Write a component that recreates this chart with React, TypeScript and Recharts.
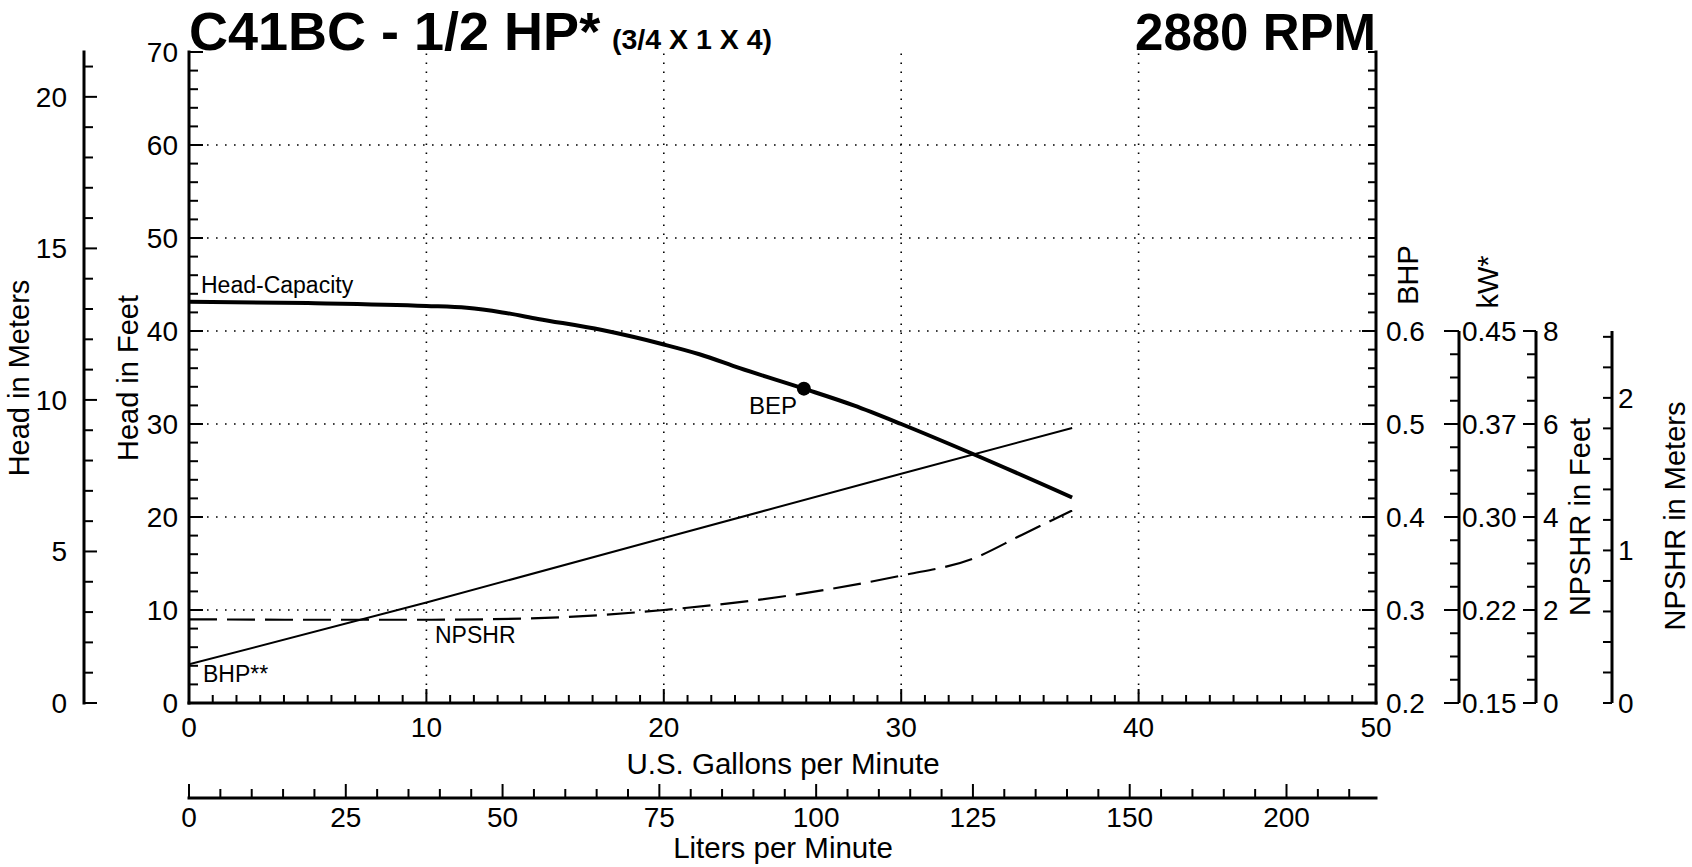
import React from "react";
import {
  ComposedChart,
  Line,
  XAxis,
  YAxis,
  ReferenceLine,
  ReferenceDot,
} from "recharts";

const FONT = '"Liberation Sans", Arial, Helvetica, sans-serif';

// ---- data (x in US gpm) ----
const headGpm = [0, 5, 10, 11.7, 13.2, 14.7, 17.4, 20, 21.5, 23.2, 25.9, 28, 30, 33, 37.2];
const headFt = [43.15, 43.0, 42.7, 42.5, 42.0, 41.3, 40.1, 38.55, 37.5, 36.0, 33.8, 32.0, 30.0, 26.8, 22.1];

const bhpGpm = [0, 10, 20, 30, 37.2];
const bhpValues = [0.2415, 0.308, 0.3775, 0.4465, 0.4957];

const npshrGpm = [0, 5, 10, 15, 20, 25, 30, 33, 35.1, 37.2];
const npshrFt = [1.8, 1.79, 1.79, 1.83, 2.0, 2.29, 2.74, 3.1, 3.62, 4.14];

const bep = { gpm: 25.9, ft: 33.8 };

// ---- tick labels ----
const gpmLabels = [0, 10, 20, 30, 40, 50];
const ftLabels = [0, 10, 20, 30, 40, 50, 60, 70];
const meterLabels = [0, 5, 10, 15, 20];
const bhpLabels = [0.2, 0.3, 0.4, 0.5, 0.6];
const kwLabels = ["0.15", "0.22", "0.30", "0.37", "0.45"];
const npshrFtLabels = [0, 2, 4, 6, 8];
const npshrMLabels = [0, 1, 2];
const lpmLabelValues = [0, 25, 50, 75, 100, 125, 150, 175];
const lpmLabels = ["0", "25", "50", "75", "100", "125", "150", "200"];

const gridGpm = [10, 20, 30, 40];
const gridFt = [10, 20, 30, 40, 50, 60];

// ---- unit conversions / domains ----
const L_PER_GAL = 3.78541;
const KW_PER_HP = 0.7457;
const GPM_MAX = 50;
const FT_MAX = 70;
const METER_MAX = 21.48; // meter scale as printed on the sheet
const BHP_DOMAIN: [number, number] = [0.2, 0.9];
const NPSHR_FT_MAX = 14;
const NPSHR_M_MAX = 4.267;

// ---- layout ----
const W = 1692;
const H = 867;
const MARGIN = { top: 52, right: 0, bottom: 0, left: 0 };
const FT_AXIS_W = 105;
const M_AXIS_W = 84;
const BHP_AXIS_W = 83;
const KW_AXIS_W = 77;
const NPFT_AXIS_W = 76;
const NPM_AXIS_W = 80;
const GPM_AXIS_H = 95;
const LPM_AXIS_H = 69;
const PLOT_H = H - MARGIN.top - GPM_AXIS_H - LPM_AXIS_H;

const headData = headGpm.map((gpm, i) => ({ gpm, ft: headFt[i] }));
const bhpData = bhpGpm.map((gpm, i) => ({ gpm, bhp: bhpValues[i] }));
const npshrData = npshrGpm.map((gpm, i) => ({ gpm, npshr: npshrFt[i] }));

const steps = (from: number, to: number, step: number) =>
  Array.from({ length: Math.round((to - from) / step) + 1 }, (_, i) =>
    +(from + i * step).toFixed(6),
  );

const gpmTicks = steps(0, GPM_MAX, 1);
// litre scale is laid on the gpm scale
const lpmTicks = steps(0, 185, 5).map((l) => l / L_PER_GAL);
const ftTicks = steps(0, FT_MAX, 2);
const meterTicks = steps(0, 21, 1);
const bhpTicks = steps(0.2, 0.9, 0.02);
const kwTicks = steps(0.2, 0.6, 0.025).map((v) => v * KW_PER_HP);
const npftTicks = steps(0, 8, 0.5);
const npmTicks = steps(0, 2.4, 0.2);

type Side = "left" | "right" | "up" | "down";
interface TickSpec {
  side: Side;
  major: number;
  minor: number;
  labels: [number, string][];
  dx: number;
  dy: number;
  anchor: "start" | "middle" | "end";
}

const pairs = (vals: number[], texts?: string[]): [number, string][] =>
  vals.map((v, i) => [v, texts ? texts[i] : String(v)]);

const gpmSpec: TickSpec = { side: "up", major: 14, minor: 8, labels: pairs(gpmLabels), dx: 0, dy: 34, anchor: "middle" };
const topSpec: TickSpec = { side: "down", major: 15, minor: 8, labels: pairs(gpmLabels, gpmLabels.map(() => "")), dx: 0, dy: 0, anchor: "middle" };
const lpmSpec: TickSpec = { side: "up", major: 14, minor: 9, labels: pairs(lpmLabelValues.map((l) => l / L_PER_GAL), lpmLabels), dx: 0, dy: 29, anchor: "middle" };
const ftSpec: TickSpec = { side: "right", major: 14, minor: 9, labels: pairs(ftLabels), dx: -11, dy: 10, anchor: "end" };
const meterSpec: TickSpec = { side: "right", major: 13, minor: 9, labels: pairs(meterLabels), dx: -17, dy: 10, anchor: "end" };
const bhpSpec: TickSpec = { side: "left", major: 14, minor: 8, labels: pairs(bhpLabels), dx: 10, dy: 10, anchor: "start" };
const kwSpec: TickSpec = { side: "left", major: 15, minor: 9, labels: pairs(bhpLabels.map((v) => v * KW_PER_HP), kwLabels), dx: 3, dy: 10, anchor: "start" };
const npftSpec: TickSpec = { side: "left", major: 13, minor: 9, labels: pairs(npshrFtLabels), dx: 7, dy: 10, anchor: "start" };
const npmSpec: TickSpec = { side: "left", major: 9, minor: 9, labels: pairs(npshrMLabels), dx: 6, dy: 10, anchor: "start" };

function AxisTick(props: any) {
  const { x = 0, y = 0, payload, spec } = props as {
    x: number;
    y: number;
    payload: { value: number };
    spec: TickSpec;
  };
  const v = payload?.value ?? 0;
  const hit = spec.labels.find(([lv]) => Math.abs(lv - v) < 1e-6);
  const len = hit ? spec.major : spec.minor;
  let x2 = x;
  let y2 = y;
  if (spec.side === "left") x2 = x - len;
  if (spec.side === "right") x2 = x + len;
  if (spec.side === "up") y2 = y - len;
  if (spec.side === "down") y2 = y + len;
  return (
    <g>
      <line x1={x} y1={y} x2={x2} y2={y2} stroke="#000" strokeWidth={2} />
      {hit && hit[1] !== "" && (
        <text
          x={x + spec.dx}
          y={y + spec.dy}
          textAnchor={spec.anchor}
          fontSize={28}
          fontFamily={FONT}
          fill="#000"
        >
          {hit[1]}
        </text>
      )}
    </g>
  );
}

const tickOf = (spec: TickSpec) => (p: any) => <AxisTick {...p} spec={spec} />;

const AXIS_LINE = { stroke: "#000", strokeWidth: 3, strokeLinecap: "square" as const };
// the auxiliary right-hand scales only run over the lower 4/7 of the plot
const partLen = (PLOT_H * 4) / 7;
const PART_LINE = {
  stroke: "#000",
  strokeWidth: 3,
  strokeDasharray: `0 ${PLOT_H - partLen} ${partLen + 2} ${PLOT_H}`,
};

const common = {
  type: "number" as const,
  allowDataOverflow: true,
  interval: 0 as const,
  tickSize: 0,
  tickMargin: 0,
  tickLine: false,
};

const GRID = { stroke: "#000", strokeWidth: 1.6, strokeDasharray: "1.6 7.4" };

function Rot({ x, y, text, size = 29 }: { x: number; y: number; text: string; size?: number }) {
  return (
    <text
      transform={`translate(${x},${y}) rotate(-90)`}
      textAnchor="middle"
      fontSize={size}
      fontFamily={FONT}
      fill="#000"
    >
      {text}
    </text>
  );
}

export default function App() {
  return (
    <div
      style={{
        position: "absolute",
        left: 0,
        top: 0,
        width: W,
        height: H,
        background: "#fff",
        fontFamily: FONT,
      }}
    >
      <ComposedChart width={W} height={H} margin={MARGIN}>
        <XAxis
          {...common}
          xAxisId="gpm"
          dataKey="gpm"
          domain={[0, GPM_MAX]}
          ticks={gpmTicks}
          height={GPM_AXIS_H}
          axisLine={AXIS_LINE}
          tick={tickOf(gpmSpec)}
        />
        <XAxis
          {...common}
          xAxisId="lpm"
          dataKey="gpm"
          domain={[0, GPM_MAX]}
          ticks={lpmTicks}
          height={LPM_AXIS_H}
          axisLine={AXIS_LINE}
          tick={tickOf(lpmSpec)}
        />
        <XAxis
          {...common}
          xAxisId="top"
          dataKey="gpm"
          orientation="top"
          domain={[0, GPM_MAX]}
          ticks={gpmTicks}
          height={0}
          axisLine={AXIS_LINE}
          tick={tickOf(topSpec)}
        />
        <YAxis
          {...common}
          yAxisId="ft"
          domain={[0, FT_MAX]}
          ticks={ftTicks}
          width={FT_AXIS_W}
          axisLine={AXIS_LINE}
          tick={tickOf(ftSpec)}
        />
        <YAxis
          {...common}
          yAxisId="m"
          domain={[0, METER_MAX]}
          ticks={meterTicks}
          width={M_AXIS_W}
          axisLine={AXIS_LINE}
          tick={tickOf(meterSpec)}
        />
        <YAxis
          {...common}
          yAxisId="bhp"
          orientation="right"
          domain={BHP_DOMAIN}
          ticks={bhpTicks}
          width={BHP_AXIS_W}
          axisLine={AXIS_LINE}
          tick={tickOf(bhpSpec)}
        />
        <YAxis
          {...common}
          yAxisId="kw"
          orientation="right"
          domain={[BHP_DOMAIN[0] * KW_PER_HP, BHP_DOMAIN[1] * KW_PER_HP]}
          ticks={kwTicks}
          width={KW_AXIS_W}
          axisLine={PART_LINE}
          tick={tickOf(kwSpec)}
        />
        <YAxis
          {...common}
          yAxisId="npft"
          orientation="right"
          domain={[0, NPSHR_FT_MAX]}
          ticks={npftTicks}
          width={NPFT_AXIS_W}
          axisLine={PART_LINE}
          tick={tickOf(npftSpec)}
        />
        <YAxis
          {...common}
          yAxisId="npm"
          orientation="right"
          domain={[0, NPSHR_M_MAX]}
          ticks={npmTicks}
          width={NPM_AXIS_W}
          axisLine={PART_LINE}
          tick={tickOf(npmSpec)}
        />

        {gridGpm.map((v) => (
          <ReferenceLine key={`gx${v}`} xAxisId="gpm" yAxisId="ft" x={v} {...GRID} />
        ))}
        {gridFt.map((v) => (
          <ReferenceLine key={`gy${v}`} xAxisId="gpm" yAxisId="ft" y={v} {...GRID} />
        ))}

        <Line
          xAxisId="gpm"
          yAxisId="bhp"
          data={bhpData}
          dataKey="bhp"
          type="linear"
          stroke="#000"
          strokeWidth={2}
          dot={false}
          isAnimationActive={false}
        />
        <Line
          xAxisId="gpm"
          yAxisId="npft"
          data={npshrData}
          dataKey="npshr"
          type="monotone"
          stroke="#000"
          strokeWidth={2.2}
          strokeDasharray="28 10"
          dot={false}
          isAnimationActive={false}
        />
        <Line
          xAxisId="gpm"
          yAxisId="ft"
          data={headData}
          dataKey="ft"
          type="monotone"
          stroke="#000"
          strokeWidth={4}
          dot={false}
          isAnimationActive={false}
        />
        <ReferenceDot
          xAxisId="gpm"
          yAxisId="ft"
          x={bep.gpm}
          y={bep.ft}
          r={7}
          fill="#000"
          stroke="none"
        />
      </ComposedChart>

      <svg
        width={W}
        height={H}
        style={{ position: "absolute", left: 0, top: 0, pointerEvents: "none" }}
      >
        <text x={189} y={50} fontSize={54} fontWeight="bold" fontFamily={FONT}>
          C41BC - 1/2 HP*
        </text>
        <text x={612} y={49} fontSize={28.5} fontWeight="bold" fontFamily={FONT}>
          (3/4 X 1 X 4)
        </text>
        <text x={1376} y={50} fontSize={51} fontWeight="bold" fontFamily={FONT} textAnchor="end">
          2880 RPM
        </text>

        <Rot x={29} y={378} text="Head in Meters" />
        <Rot x={138} y={378} text="Head in Feet" />
        <Rot x={1418} y={275} text="BHP" />
        <Rot x={1498} y={282} text="kW*" />
        <Rot x={1590} y={517} text="NPSHR in Feet" />
        <Rot x={1685} y={516} text="NPSHR in Meters" />

        <text x={783} y={774} fontSize={29.5} textAnchor="middle" fontFamily={FONT}>
          U.S. Gallons per Minute
        </text>
        <text x={783} y={858} fontSize={29.5} textAnchor="middle" fontFamily={FONT}>
          Liters per Minute
        </text>

        <text x={201} y={293} fontSize={23} fontFamily={FONT}>Head-Capacity</text>
        <text x={749} y={414} fontSize={24} fontFamily={FONT}>BEP</text>
        <text x={435} y={643} fontSize={23} fontFamily={FONT}>NPSHR</text>
        <text x={203} y={682} fontSize={23} fontFamily={FONT}>BHP**</text>
      </svg>
    </div>
  );
}
